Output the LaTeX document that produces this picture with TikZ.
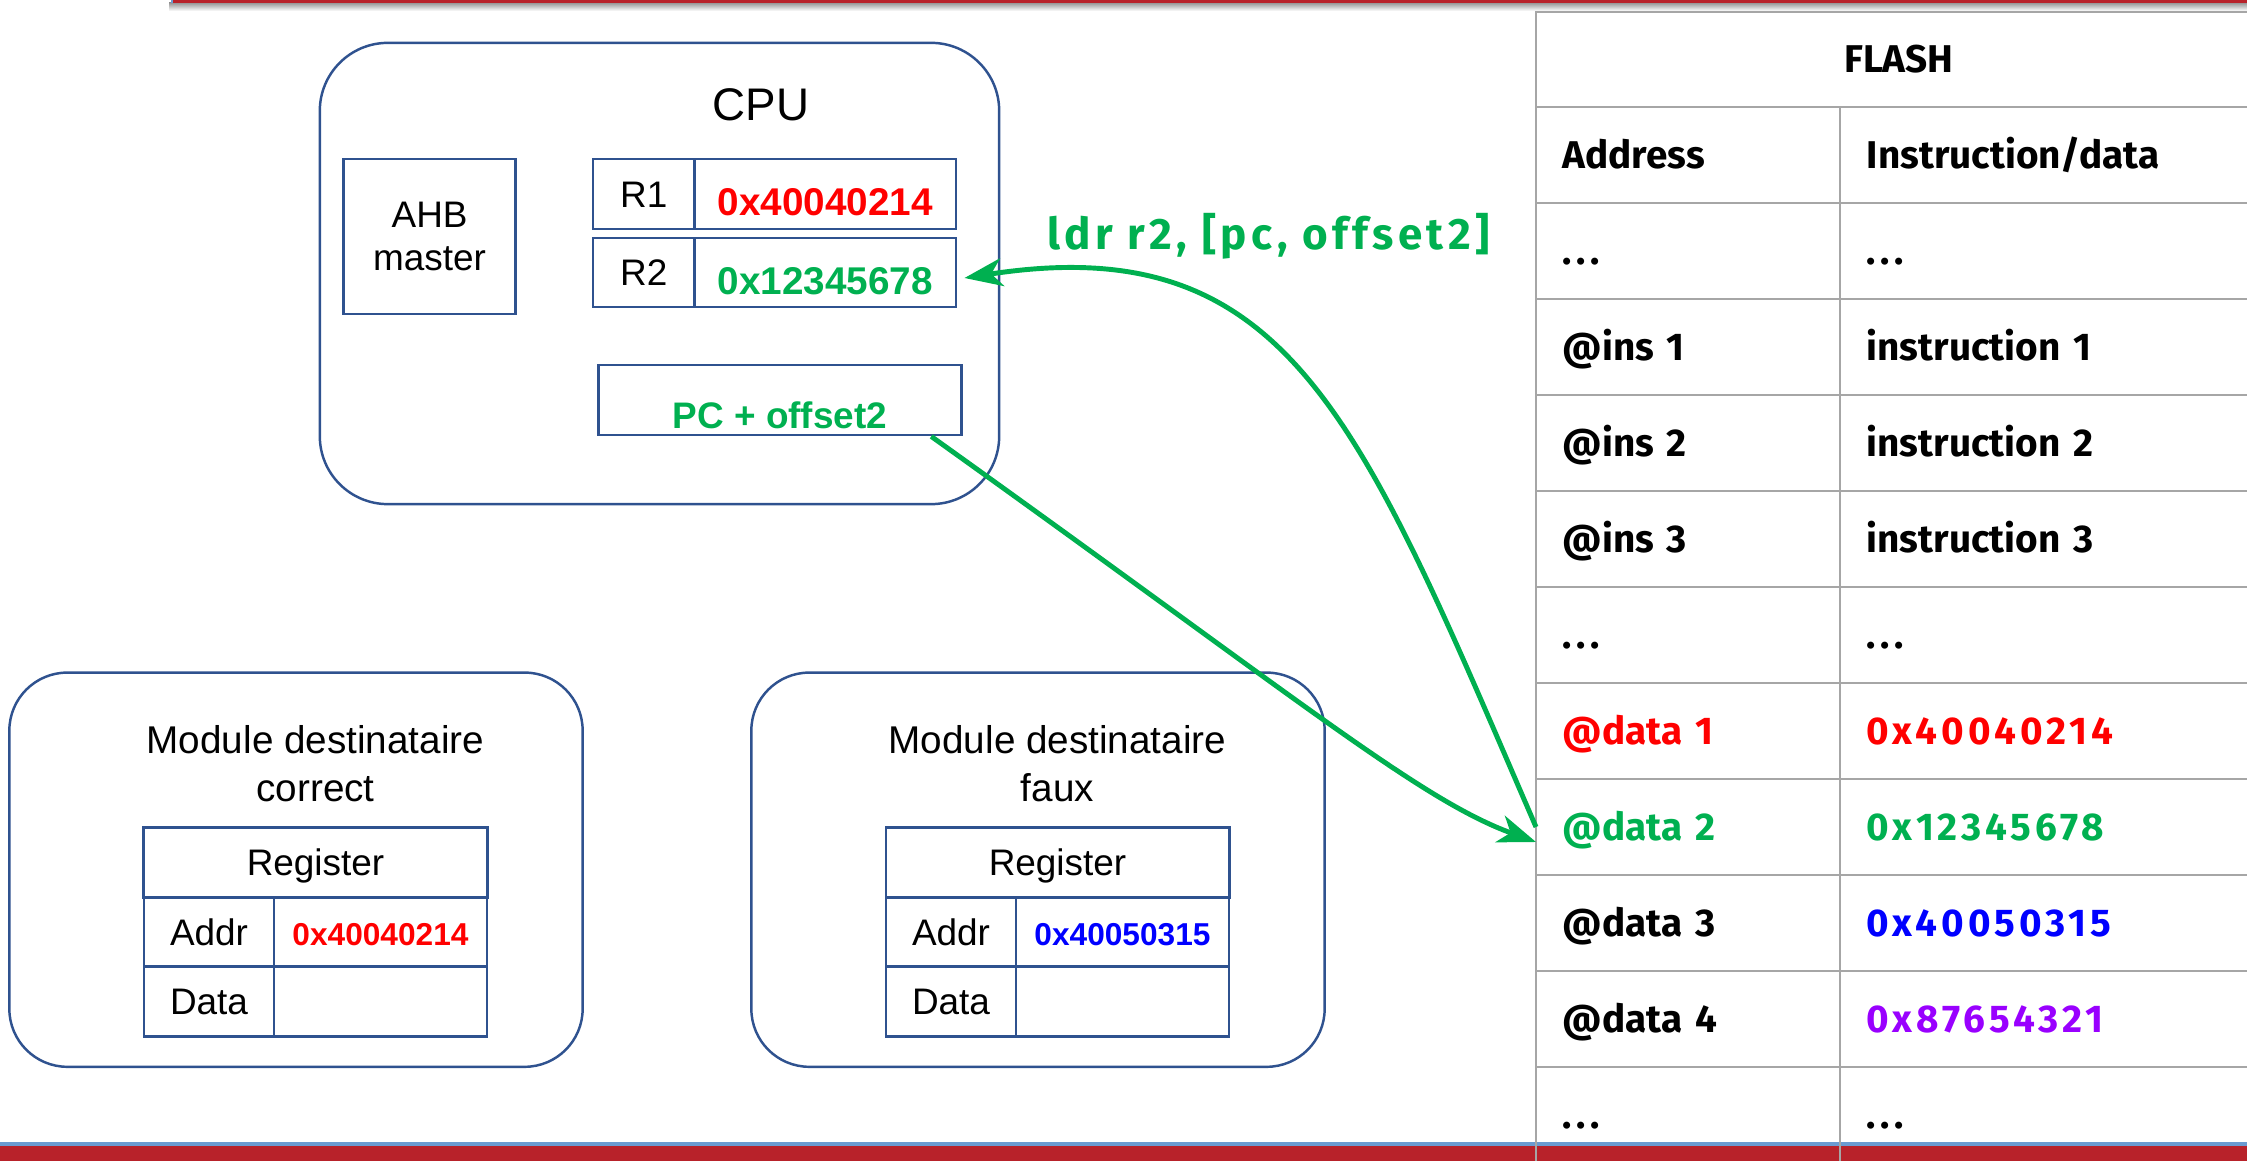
\documentclass[tikz,border=0pt]{standalone}
\usepackage{fontspec}
\setmainfont{Liberation Sans}
\newfontfamily\flashfont{Fira Sans}
\newfontfamily\widefont[LetterSpace=10]{Fira Sans}
\usetikzlibrary{arrows.meta}
\definecolor{navy}{RGB}{47,82,143}
\definecolor{okgreen}{RGB}{0,176,80}
\definecolor{datapurple}{RGB}{153,0,255}
\definecolor{flashgray}{RGB}{166,166,166}
\definecolor{bandred}{RGB}{184,34,42}
\definecolor{bandblue}{RGB}{106,155,209}
\newcommand\dotsrow{.\kern0.12em.\kern0.12em.}

\begin{document}
\begin{tikzpicture}[x=0.01cm, y=-0.01cm,
  cellbox/.style={draw=navy, line width=0.8pt, inner sep=0pt},
  modbox/.style={draw=navy, line width=0.7pt, rounded corners=0.58cm, minimum width=5.73cm, minimum height=3.94cm},
  regtxt/.style={font=\fontsize{10.5}{12.6}\selectfont, text height=2.6mm, text depth=0pt},
  valtxt/.style={font=\bfseries\fontsize{11}{13}\selectfont, text height=4.3mm, text depth=0pt},
  lcell/.style={anchor=west, minimum height=0.96cm, text width=2.52cm, inner xsep=0.26cm, inner ysep=0pt, align=left, text height=2.6mm, text depth=0pt, font=\flashfont\bfseries\fontsize{11}{13}\selectfont},
  rcell/.style={lcell, text width=3.55cm},
  hexcell/.style={rcell, font=\widefont\bfseries\fontsize{11}{13}\selectfont},
  gridline/.style={draw=flashgray, line width=0.6pt},
  garrow/.style={draw=okgreen, line width=1.4pt, -{Stealth[length=3.8mm,width=2.8mm,inset=1.1mm]}}]
  \useasboundingbox (0,0) rectangle (2247,1161);
  % bands
  \shade[top color=black!40, bottom color=white] (169,3) rectangle (2247,11);
  \fill[bandred] (172,0) rectangle (2247,3);
  \draw[bandblue, line width=0.4pt] (172,3) -- (172,0);
  \fill[bandblue] (0,1142) rectangle (2247,1146);
  \fill[bandred] (0,1146) rectangle (2247,1161);

  % flash
  \draw[gridline] (2247,12) -- (1536,12) -- (1536,1161);
  \draw[gridline] (1840,107) -- (1840,1161);
  \foreach \y in {107,203,...,1067}
    \draw[gridline] (1536,\y) -- (2247,\y);
  \node[font=\flashfont\bfseries\fontsize{11}{13}\selectfont] (flash) at (1899,59.5) {FLASH};
  \node[lcell] (a0) at (1536,155) {Address};
  \node[rcell] (b0) at (1840,155) {Instruction/data};
  \node[lcell] (a1) at (1536,251) {\dotsrow};
  \node[rcell] (b1) at (1840,251) {\dotsrow};
  \node[lcell] (a2) at (1536,347) {@ins 1};
  \node[rcell] (b2) at (1840,347) {instruction 1};
  \node[lcell] (a3) at (1536,443) {@ins 2};
  \node[rcell] (b3) at (1840,443) {instruction 2};
  \node[lcell] (a4) at (1536,539) {@ins 3};
  \node[rcell] (b4) at (1840,539) {instruction 3};
  \node[lcell] (a5) at (1536,635) {\dotsrow};
  \node[rcell] (b5) at (1840,635) {\dotsrow};
  \node[lcell, text=red] (a6) at (1536,731) {@data 1};
  \node[hexcell, text=red] (b6) at (1840,731) {0x40040214};
  \node[lcell, text=okgreen] (a7) at (1536,827) {@data 2};
  \node[hexcell, text=okgreen] (b7) at (1840,827) {0x12345678};
  \node[lcell] (a8) at (1536,923) {@data 3};
  \node[hexcell, text=blue] (b8) at (1840,923) {0x40050315};
  \node[lcell] (a9) at (1536,1019) {@data 4};
  \node[hexcell, text=datapurple] (b9) at (1840,1019) {0x87654321};
  \node[lcell] (a10) at (1536,1115) {\dotsrow};
  \node[rcell] (b10) at (1840,1115) {\dotsrow};

  % cpu
  \node[draw=navy, line width=0.7pt, rounded corners=0.68cm, minimum width=6.79cm, minimum height=4.61cm] (cpu) at (659.5,273.5) {};
  \node[font=\fontsize{13}{15}\selectfont] (cpulbl) at (761,105) {CPU};
  \node[cellbox, minimum width=1.72cm, minimum height=1.55cm, align=center, font=\fontsize{10.5}{12.1}\selectfont] (ahb) at (429.6,236.5) {AHB\\master};
  \node[cellbox, regtxt, minimum width=1.015cm, minimum height=0.70cm] (r1) at (643.75,194) {R1};
  \node[cellbox, valtxt, text=red, minimum width=2.615cm, minimum height=0.70cm] (r1v) at (825.25,194) {0x40040214};
  \node[cellbox, regtxt, minimum width=1.015cm, minimum height=0.69cm] (r2) at (643.75,272.5) {R2};
  \node[cellbox, valtxt, text=okgreen, minimum width=2.615cm, minimum height=0.69cm] (r2v) at (825.25,272.5) {0x12345678};
  \node[cellbox, minimum width=3.635cm, minimum height=0.70cm, text=okgreen, font=\bfseries\fontsize{10.5}{12}\selectfont, text height=5.6mm, text depth=0pt] (pc) at (780,400) {PC + offset2};

  % modules
  \node[modbox] (mod1) at (296,869.7) {};
  \node[align=center, font=\fontsize{11}{13.7}\selectfont] (mod1lbl) at (315.5,764) {Module destinataire\\correct};
  \node[cellbox, regtxt, minimum width=3.43cm, minimum height=0.70cm] (reg1) at (315.5,862.7) {Register};
  \node[cellbox, regtxt, minimum width=1.30cm, minimum height=0.69cm] (addr1) at (209,932.2) {Addr};
  \node[cellbox, regtxt, minimum width=2.13cm, minimum height=0.69cm, text=red, font=\bfseries\fontsize{9}{11}\selectfont] (addr1v) at (380.5,932.2) {0x40040214};
  \node[cellbox, regtxt, minimum width=1.30cm, minimum height=0.70cm] (data1) at (209,1001.7) {Data};
  \node[cellbox, regtxt, minimum width=2.13cm, minimum height=0.70cm] (data1v) at (380.5,1001.7) {};
  \begin{scope}[shift={(742,0)}]
    \node[modbox] (mod2) at (296,869.7) {};
    \node[align=center, font=\fontsize{11}{13.7}\selectfont] (mod2lbl) at (315.5,764) {Module destinataire\\faux};
    \node[cellbox, regtxt, minimum width=3.43cm, minimum height=0.70cm] (reg2) at (315.5,862.7) {Register};
    \node[cellbox, regtxt, minimum width=1.30cm, minimum height=0.69cm] (addr2) at (209,932.2) {Addr};
    \node[cellbox, regtxt, minimum width=2.13cm, minimum height=0.69cm, text=blue, font=\bfseries\fontsize{9}{11}\selectfont] (addr2v) at (380.5,932.2) {0x40050315};
    \node[cellbox, regtxt, minimum width=1.30cm, minimum height=0.70cm] (data2) at (209,1001.7) {Data};
    \node[cellbox, regtxt, minimum width=2.13cm, minimum height=0.70cm] (data2v) at (380.5,1001.7) {};
  \end{scope}

  % load
  \node[text=okgreen, font=\widefont\bfseries\fontsize{12.5}{15}\selectfont] (ldr) at (1268.5,236) {ldr r2, [pc, offset2]};
  \draw[garrow] (a7.west) .. controls (1360,420) and (1290,228) .. ([xshift=0.7mm,yshift=-0.55mm]r2v.east);
  \draw[garrow] ([xshift=-3.2mm]pc.south east) .. controls (1300,700) and (1420,800) .. ([yshift=-1.5mm]a7.west);
\end{tikzpicture}
\end{document}
